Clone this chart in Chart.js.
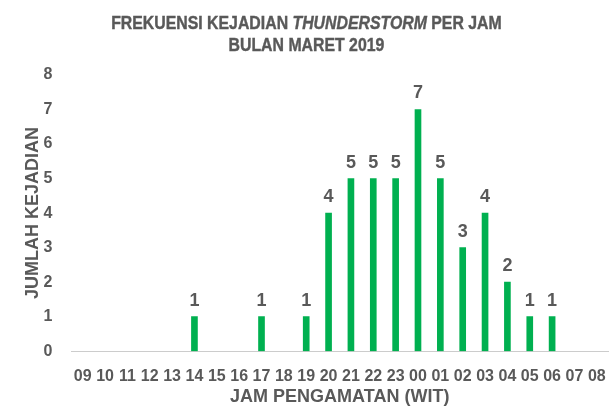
<!DOCTYPE html>
<html>
<head>
<meta charset="utf-8">
<script src="https://cdn.jsdelivr.net/npm/chart.js@4.4.0/dist/chart.umd.min.js"></script>
<style>
    html, body { margin: 0; padding: 0; background: #fff; }
    #wrap { position: relative; width: 613px; height: 408px; }
    #judul {
        position: absolute; left: 0; top: 12px; width: 613px; text-align: center;
        font-family: "Liberation Sans", Arial, sans-serif;
        font-weight: bold; font-size: 18px; line-height: 22px; color: #595959;
        -webkit-text-stroke: 0.4px #595959;
        transform: scaleX(0.88); transform-origin: 306px 0;
    }
    canvas { position: absolute; left: 0; top: 0; }
</style>
</head>
<body>
<div id="wrap">
    <canvas id="chartJam" width="613" height="408"></canvas>
    <div id="judul">FREKUENSI KEJADIAN <i>THUNDERSTORM</i> PER JAM<br>BULAN MARET 2019</div>
</div>
<script>
const jam = ["09","10","11","12","13","14","15","16","17","18","19","20","21","22","23","00","01","02","03","04","05","06","07","08"];
const kejadian = [0,0,0,0,0,1,0,0,1,0,1,4,5,5,5,7,5,3,4,2,1,1,0,0];
const tickY = [0,1,2,3,4,5,6,7,8];

const fontUtama = "'Liberation Sans', Arial, sans-serif";
const abu = "#595959";
const hijau = "#00B050";

// tulis angka di atas batang (kecuali nol)
const labelNilai = {
    id: 'labelNilai',
    afterDatasetsDraw(chart) {
        const ctx = chart.ctx;
        const meta = chart.getDatasetMeta(0);
        ctx.save();
        ctx.font = "bold 18px " + fontUtama;
        ctx.fillStyle = abu;
        ctx.textAlign = 'center';
        ctx.textBaseline = 'bottom';
        meta.data.forEach((bar, i) => {
            if (kejadian[i] > 0) {
                ctx.fillText(String(kejadian[i]), bar.x, bar.y - 7);
            }
        });
        ctx.restore();
    }
};

const ctx = document.getElementById('chartJam').getContext('2d');
new Chart(ctx, {
    type: 'bar',
    data: {
        labels: jam,
        datasets: [{
            data: kejadian,
            backgroundColor: kejadian.map(v => v > 0 ? hijau : 'rgba(0,0,0,0)'),
            barThickness: 6
        }]
    },
    options: {
        responsive: false,
        animation: false,
        layout: { padding: { top: 75, right: 5, left: 22, bottom: 0 } },
        plugins: { legend: { display: false }, tooltip: { enabled: false } },
        scales: {
            y: {
                min: 0, max: 8,
                afterBuildTicks: (axis) => { axis.ticks = tickY.map(v => ({ value: v })); },
                grid: { display: false, drawTicks: true, tickLength: 19 },
                border: { display: false },
                ticks: { color: abu, font: { family: fontUtama, size: 16, weight: 'bold' }, padding: 0 },
                title: { display: true, text: "JUMLAH KEJADIAN", color: abu, font: { family: fontUtama, size: 18, weight: 'bold' }, padding: 0 }
            },
            x: {
                grid: { display: false, drawTicks: true, tickLength: 16 },
                border: { display: true, color: "#cccccc", width: 1 },
                ticks: { color: abu, font: { family: fontUtama, size: 16, weight: 'bold' }, maxRotation: 0, autoSkip: false, padding: 0 },
                title: { display: true, text: "JAM PENGAMATAN (WIT)", color: abu, font: { family: fontUtama, size: 18, weight: 'bold' }, padding: 0 }
            }
        }
    },
    plugins: [labelNilai]
});
</script>
</body>
</html>
